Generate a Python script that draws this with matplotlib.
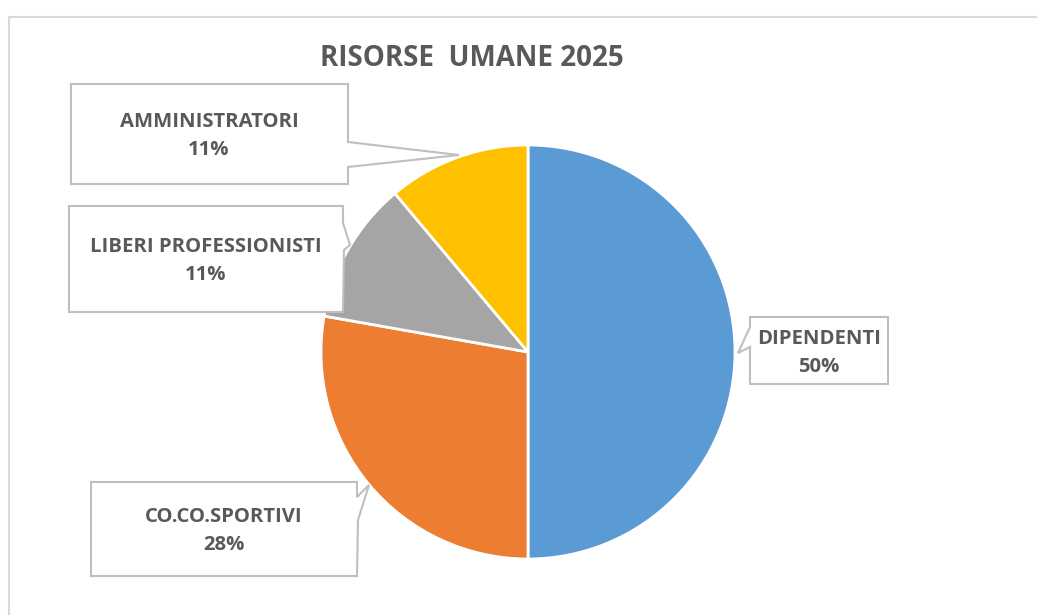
import matplotlib.pyplot as plt
from matplotlib.patches import Polygon

# data
labels = ["DIPENDENTI", "CO.CO.SPORTIVI", "LIBERI PROFESSIONISTI", "AMMINISTRATORI"]
values = [9, 5, 2, 2]
colors = ["#5B9BD5", "#ED7D31", "#A5A5A5", "#FFC000"]
title = "RISORSE  UMANE 2025"

W, H = 1037, 615
TXT = "#595959"
EDGE = "#BFBFBF"
plt.rcParams["font.family"] = ["Open Sans", "DejaVu Sans"]


def px(x, y):
    # pixel coords (from top-left) -> figure fraction
    return (x / W, 1 - y / H)


fig = plt.figure(figsize=(W / 100, H / 100), dpi=100)

# outer chart frame (cut off at right / bottom like the screenshot)
frame = [(9, 700), (9, 17), (1100, 17)]
fig.add_artist(plt.Line2D([px(*p)[0] for p in frame], [px(*p)[1] for p in frame],
                          transform=fig.transFigure, color="#D9D9D9", lw=1.5))

# pie axes: centre (528, 352), radius 207 px
cx, cy, r = 528, 352, 207
ax = fig.add_axes([(cx - r) / W, 1 - (cy + r) / H, 2 * r / W, 2 * r / H])
wedges, _ = ax.pie(values, colors=colors, startangle=90, counterclock=False,
                   wedgeprops=dict(edgecolor="white", linewidth=2))
for w in wedges:
    w.set_clip_on(False)
ax.set_xlim(-1, 1)
ax.set_ylim(-1, 1)
ax.set_aspect("equal")
ax.axis("off")

fig.text(*px(472, 58), title, ha="center", va="center", fontsize=20,
         fontweight="bold", color=TXT)

total = sum(values)
pcts = [v / total * 100 for v in values]

# callout shapes (pixel outlines) and text centres
callouts = {
    "DIPENDENTI": [(750, 317), (888, 317), (888, 384), (750, 384), (750, 347),
                   (738, 353), (750, 327)],
    "CO.CO.SPORTIVI": [(91, 482), (357, 482), (357, 497), (369, 485), (358, 520),
                       (357, 576), (91, 576)],
    "LIBERI PROFESSIONISTI": [(69, 206), (343, 206), (343, 223), (350, 245),
                              (344, 250), (343, 312), (69, 312)],
    "AMMINISTRATORI": [(71, 84), (348, 84), (348, 142), (459, 155), (348, 167),
                       (348, 184), (71, 184)],
}
centres = {
    "DIPENDENTI": (819, 353),
    "CO.CO.SPORTIVI": (224, 531),
    "LIBERI PROFESSIONISTI": (206, 261),
    "AMMINISTRATORI": (209, 136),
}

for name, pct in zip(labels, pcts):
    pts = [px(*p) for p in callouts[name]]
    fig.add_artist(Polygon(pts, closed=True, transform=fig.transFigure,
                           facecolor="white", edgecolor=EDGE, lw=1.5))
    fig.text(*px(*centres[name]), f"{name}\n{pct:.0f}%", ha="center", va="center",
             fontsize=14.6, fontweight="bold", color=TXT, linespacing=1.5)

fig.savefig("out.png", dpi=100)
